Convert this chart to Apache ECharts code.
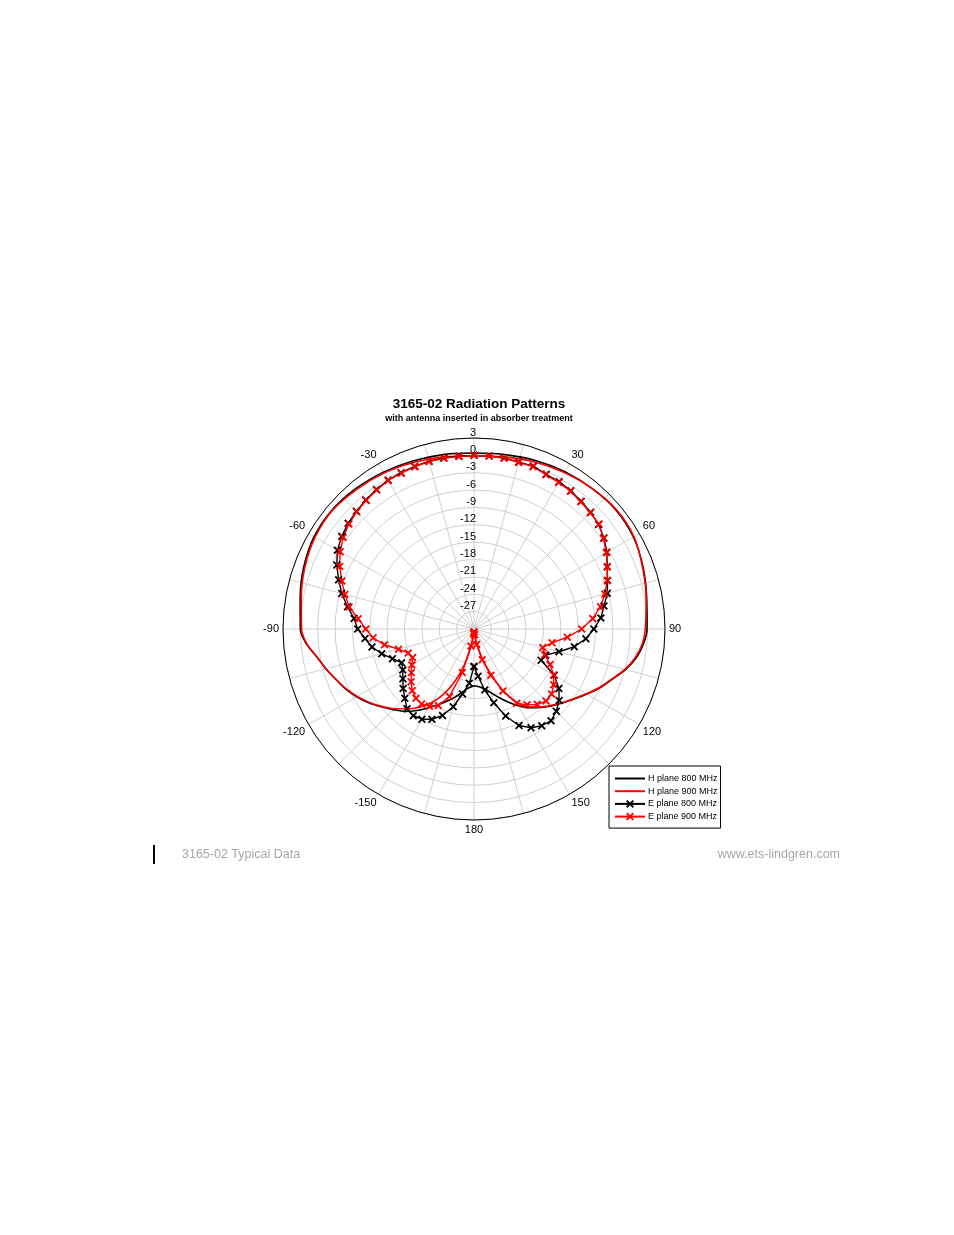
<!DOCTYPE html>
<html><head><meta charset="utf-8">
<script src="https://cdn.jsdelivr.net/npm/echarts/dist/echarts.min.js"></script>
<style>html,body{margin:0;padding:0;background:#fff}#c{width:954px;height:1235px}</style>
</head><body><div id="c"></div><script>
// Angles in degrees (0 = top, clockwise positive), levels in dB
const eAngles = [-180,-175,-170,-165,-160,-155,-150,-145,-140,-135,-130,-125,-120,-115,-110,-105,-100,-95,-90,-85,-80,-75,-70,-65,-60,-55,-50,-45,-40,-35,-30,-25,-20,-15,-10,-5,0,5,10,15,20,25,30,35,40,45,50,55,60,65,70,75,80,85,90,95,100,105,110,115,120,125,130,135,140,145,150,155,160,165,170,175,180];
const ePlane800 = [-23.5,-20.6,-18.6,-16.1,-14.1,-12.8,-12.0,-11.7,-12.0,-13.1,-14.0,-15.0,-15.8,-16.2,-15.0,-13.5,-12.1,-11.1,-9.9,-9.2,-7.8,-6.35,-5.1,-3.85,-2.75,-2.1,-1.6,-1.25,-0.9,-0.6,-0.3,-0.2,-0.1,0.0,0.0,0.0,0.0,0.0,0.0,-0.15,-0.05,-0.5,-0.6,-0.85,-1.2,-1.5,-1.9,-2.6,-3.5,-4.6,-5.45,-6.15,-7.2,-8.0,-9.3,-10.6,-12.4,-14.8,-16.8,-17.2,-14.0,-12.1,-10.8,-9.9,-9.3,-9.6,-10.3,-11.6,-14.0,-16.8,-19.3,-21.8,-23.5];
const ePlane900 = [-29.5,-29.2,-27.0,-22.2,-17.6,-15.4,-14.6,-14.2,-14.4,-14.9,-15.8,-16.8,-17.6,-18.3,-17.9,-16.5,-14.3,-12.5,-11.3,-9.9,-8.1,-6.9,-5.7,-4.4,-3.3,-2.4,-1.8,-1.35,-1.0,-0.7,-0.35,-0.3,-0.15,-0.05,-0.05,-0.1,0.0,0.0,-0.05,-0.2,-0.15,-0.6,-0.75,-0.95,-1.3,-1.6,-1.8,-2.7,-3.6,-4.6,-5.5,-6.6,-7.8,-9.4,-11.4,-13.8,-16.3,-17.7,-17.0,-15.5,-14.1,-13.2,-12.5,-12.4,-13.0,-14.0,-15.2,-18.2,-21.5,-24.5,-27.3,-29.0,-29.5];
const hAngles = [-180,-175,-170,-165,-160,-155,-150,-145,-140,-135,-130,-125,-120,-115,-110,-105,-100,-95,-90,-80,-70,-60,-50,-40,-30,-20,-10,0,10,20,30,40,50,60,70,80,90,95,100,105,110,115,120,125,130,135,140,145,150,155,160,165,170,175,180];
const hPlane800 = [-20.2,-19.8,-19.0,-17.9,-16.8,-15.6,-14.3,-12.8,-11.4,-10.3,-9.1,-7.8,-6.6,-5.5,-4.6,-3.5,-2.4,-0.9,0.0,0.5,1.3,1.9,2.0,1.7,1.3,0.9,0.6,0.4,0.6,1.0,1.4,1.7,2.0,1.8,1.1,0.3,-0.1,-0.6,-1.5,-2.9,-4.6,-6.0,-7.5,-8.9,-10.1,-11.2,-12.3,-13.4,-14.7,-16.1,-17.4,-18.6,-19.5,-20.0,-20.2];
const hPlane900 = [-29.5,-28.8,-26.8,-23.7,-20.4,-17.6,-15.3,-13.5,-12.0,-10.5,-9.2,-7.9,-6.7,-5.6,-4.6,-3.5,-2.4,-1.0,-0.2,0.3,1.1,1.7,1.9,1.5,1.1,0.6,0.2,-0.1,0.2,0.7,1.2,1.7,2.1,1.9,1.0,0.2,-0.4,-0.8,-1.7,-3.0,-4.7,-6.1,-7.6,-9.0,-10.2,-11.3,-12.4,-13.6,-15.4,-18.4,-22.0,-25.0,-27.5,-29.0,-29.5];
const seriesNames = ['H plane 800 MHz','H plane 900 MHz','E plane 800 MHz','E plane 900 MHz'];
const titleText = '3165-02 Radiation Patterns';
const subtitleText = 'with antenna inserted in absorber treatment';
const footerLeft = '3165-02 Typical Data';
const footerRight = 'www.ets-lindgren.com';

const FONT = '"Liberation Sans Narrow", "Arial Narrow", "Liberation Sans", Arial, sans-serif';
const XSYM = 'path://M0,1.6 L1.6,0 L5,3.4 L8.4,0 L10,1.6 L6.6,5 L10,8.4 L8.4,10 L5,6.6 L1.6,10 L0,8.4 L3.4,5 Z';
// thin horizontal bar inside a square bounding box (tiny corner specks keep the aspect)
const BARSYM = 'path://M0,0 L0.01,0 L0,0.01 Z M10,10 L9.99,10 L10,9.99 Z M0,4.4 L10,4.4 L10,5.6 L0,5.6 Z';

function toPolar(angles, vals) {
  return angles.map((a, i) => [vals[i], a < 0 ? a + 360 : a]);
}

const chart = echarts.init(document.getElementById('c'), null, {renderer: 'canvas'});
chart.setOption({
  animation: false,
  backgroundColor: '#fff',
  title: {
    text: titleText, subtext: subtitleText,
    left: 474, top: 392, textAlign: 'center', itemGap: 3,
    textStyle: {fontFamily: FONT, fontSize: 13.5, fontWeight: 'bold', color: '#000'},
    subtextStyle: {fontFamily: FONT, fontSize: 9, fontWeight: 'bold', color: '#000'}
  },
  polar: {center: [474, 629], radius: 191},
  angleAxis: {
    type: 'value', min: 0, max: 360, interval: 15, startAngle: 90, clockwise: true,
    axisLine: {show: true, lineStyle: {color: '#000', width: 1}},
    axisTick: {show: false},
    splitLine: {show: true, lineStyle: {color: '#d0d0d0', width: 1}},
    axisLabel: {
      margin: 4, color: '#000', fontFamily: FONT, fontSize: 11,
      formatter: v => (v % 30 === 0 && v !== 0 && v !== 360) ? String(v > 180 ? v - 360 : v) : ''
    }
  },
  radiusAxis: {
    type: 'value', min: -30, max: 3, interval: 3,
    axisLine: {show: false}, axisTick: {show: false},
    splitLine: {show: true, lineStyle: {color: '#d0d0d0', width: 1}},
    axisLabel: {
      color: '#000', fontFamily: FONT, fontSize: 11, margin: -2,
      align: 'right', verticalAlign: 'bottom',
      formatter: v => v === -30 ? '' : String(v)
    }
  },
  legend: {
    orient: 'vertical', left: 609, top: 766,
    data: seriesNames,
    itemWidth: 30, itemHeight: 10, itemGap: 3.7,
    padding: [8, 3, 7, 5],
    borderColor: '#000', borderWidth: 1, backgroundColor: '#fff',
    textStyle: {fontFamily: FONT, fontSize: 9, color: '#000', padding: [0, 0, 0, -2]}
  },
  graphic: [
    {type: 'rect', shape: {x: 153, y: 845, width: 2, height: 19}, style: {fill: '#000'}},
    {type: 'text', x: 182, y: 855, style: {text: footerLeft, fill: '#a6a6a6', font: '12.5px "Liberation Sans", Arial, sans-serif', textAlign: 'left', textVerticalAlign: 'middle'}},
    {type: 'text', x: 840, y: 855, style: {text: footerRight, fill: '#a6a6a6', font: '12.5px "Liberation Sans", Arial, sans-serif', textAlign: 'right', textVerticalAlign: 'middle'}}
  ],
  series: [
    {name: seriesNames[0], type: 'line', coordinateSystem: 'polar', data: toPolar(hAngles, hPlane800),
     smooth: 0.3, symbol: BARSYM, showSymbol: false, lineStyle: {color: '#000', width: 1.6}, itemStyle: {color: '#000'}},
    {name: seriesNames[1], type: 'line', coordinateSystem: 'polar', data: toPolar(hAngles, hPlane900),
     smooth: 0.3, symbol: BARSYM, showSymbol: false, lineStyle: {color: '#ff0000', width: 1.6}, itemStyle: {color: '#ff0000'}},
    {name: seriesNames[2], type: 'line', coordinateSystem: 'polar', data: toPolar(eAngles, ePlane800),
     symbol: XSYM, symbolSize: 8, showSymbol: true, lineStyle: {color: '#000', width: 1.4}, itemStyle: {color: '#000'}},
    {name: seriesNames[3], type: 'line', coordinateSystem: 'polar', data: toPolar(eAngles, ePlane900),
     symbol: XSYM, symbolSize: 8, showSymbol: true, lineStyle: {color: '#ff0000', width: 1.4}, itemStyle: {color: '#ff0000'}}
  ]
});
</script></body></html>
